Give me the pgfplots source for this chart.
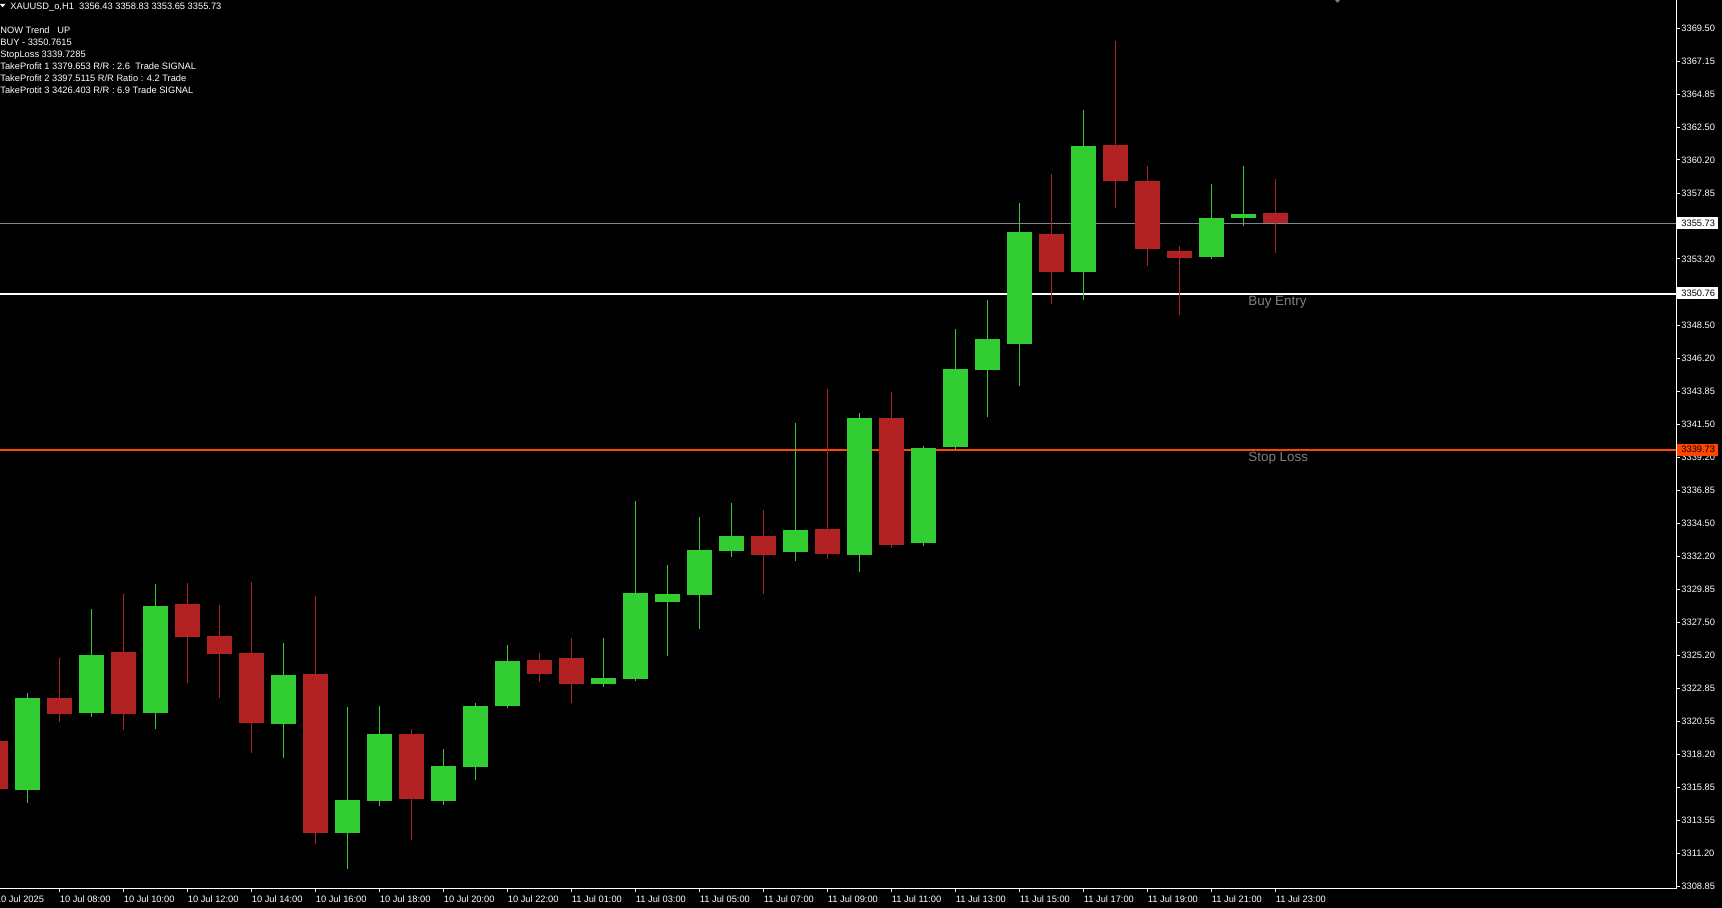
\documentclass[border=0pt]{standalone}
\usepackage{pgfplots}
\pgfplotsset{compat=1.18}
\usepackage{pgfplotstable}
\usepackage{fontspec}
\setmainfont{Liberation Sans}
\definecolor{bull}{HTML}{32CD32}
\definecolor{bear}{HTML}{B22222}
\definecolor{slgray}{HTML}{778899}
\definecolor{orred}{HTML}{FF4500}
\definecolor{lblgray}{HTML}{808080}
\newcommand\tf{\fontsize{4.65}{5.6}\selectfont}

% t = bar index (0 = 10 Jul 06:00), O H L C
\pgfplotstableread{
t O H L C
1 3315.68 3322.53 3314.76 3322.18
3 3321.12 3328.47 3320.84 3325.22
5 3321.12 3330.24 3319.99 3328.68
9 3320.34 3326.07 3317.94 3323.81
11 3312.64 3321.55 3310.10 3314.97
12 3314.90 3321.62 3314.55 3319.64
14 3314.90 3318.58 3314.62 3317.38
15 3317.31 3321.83 3316.39 3321.62
16 3321.62 3325.93 3321.48 3324.80
19 3323.17 3326.42 3322.96 3323.59
20 3323.52 3336.10 3323.38 3329.60
21 3328.96 3331.58 3325.15 3329.53
22 3329.46 3334.97 3327.06 3332.64
23 3332.57 3335.96 3332.14 3333.63
25 3332.50 3341.61 3331.86 3334.05
27 3332.29 3342.32 3331.08 3341.97
29 3333.13 3339.99 3332.92 3339.85
30 3339.92 3348.25 3339.78 3345.43
31 3345.36 3350.30 3342.04 3347.55
32 3347.19 3357.16 3344.23 3355.11
34 3352.28 3363.73 3350.30 3361.18
38 3353.34 3358.50 3353.20 3356.10
39 3356.10 3359.77 3355.53 3356.38
}\bulltab

\pgfplotstableread{
t O H L C
0 3319.14 3319.60 3315.20 3315.75
2 3322.18 3325.01 3320.49 3321.05
4 3325.43 3329.53 3319.92 3321.05
6 3328.82 3330.31 3323.24 3326.49
7 3326.56 3328.75 3322.18 3325.29
8 3325.36 3330.38 3318.30 3320.42
10 3323.88 3329.39 3311.87 3312.64
13 3319.64 3319.99 3312.15 3315.05
17 3324.87 3325.36 3323.31 3323.88
18 3325.01 3326.42 3321.83 3323.17
24 3333.63 3335.46 3329.53 3332.29
26 3334.12 3344.01 3332.00 3332.36
28 3341.97 3343.80 3332.78 3332.99
33 3354.97 3359.21 3350.02 3352.28
35 3361.25 3368.60 3356.80 3358.71
36 3358.71 3359.77 3352.71 3353.91
37 3353.76 3354.12 3349.24 3353.27
40 3356.43 3358.83 3353.65 3355.73
}\beartab

\begin{document}
\begin{tikzpicture}
\fill[black] (0,-9.5pt) rectangle (861pt,444.5pt);
\begin{axis}[
  at={(0,0)}, anchor=south west,
  scale only axis, width=838pt, height=444.5pt,
  xmin=0.140625, xmax=52.515625,
  ymin=3308.69, ymax=3371.50,
  axis line style={draw=none},
  tick align=outside,
  major tick length=1.75pt,
  tick style={white, line width=0.5pt},
  xtick pos=left, ytick pos=right,
  xticklabel pos=left, yticklabel pos=right,
  xtick={2,4,...,40},
  xticklabels={10 Jul 08:00, 10 Jul 10:00, 10 Jul 12:00, 10 Jul 14:00, 10 Jul 16:00, 10 Jul 18:00, 10 Jul 20:00, 10 Jul 22:00, 11 Jul 01:00, 11 Jul 03:00, 11 Jul 05:00, 11 Jul 07:00, 11 Jul 09:00, 11 Jul 11:00, 11 Jul 13:00, 11 Jul 15:00, 11 Jul 17:00, 11 Jul 19:00, 11 Jul 21:00, 11 Jul 23:00},
  ytick={3308.85,3311.20,3313.55,3315.85,3318.20,3320.55,3322.85,3325.20,3327.50,3329.85,3332.20,3334.50,3336.85,3339.20,3341.50,3343.85,3346.20,3348.50,3353.20,3357.85,3360.20,3362.50,3364.85,3367.15,3369.50},
  yticklabels={3308.85,3311.20,3313.55,3315.85,3318.20,3320.55,3322.85,3325.20,3327.50,3329.85,3332.20,3334.50,3336.85,3339.20,3341.50,3343.85,3346.20,3348.50,3353.20,3357.85,3360.20,3362.50,3364.85,3367.15,3369.50},
  x tick label style={font=\tf, text=white, anchor=north west, inner sep=0pt, yshift=-1.25pt},
  y tick label style={font=\tf, text=white, anchor=west, inner sep=0pt, xshift=0.75pt},
]
% level lines
\addplot[slgray, line width=0.5pt, forget plot] coordinates {(0,3355.73) (53,3355.73)};
\addplot[white, line width=1pt, forget plot] coordinates {(0,3350.76) (53,3350.76)};
\addplot[orred, line width=1pt, forget plot] coordinates {(0,3339.73) (53,3339.73)};
% wicks
\addplot[draw=none, mark=none, forget plot,
  error bars/.cd, y dir=plus, y explicit, error mark=none,
  error bar style={draw=bull, line width=0.5pt}]
  table[x=t, y=L, y error plus expr={\thisrow{H}-\thisrow{L}}] {\bulltab};
\addplot[draw=none, mark=none, forget plot,
  error bars/.cd, y dir=plus, y explicit, error mark=none,
  error bar style={draw=bear, line width=0.5pt}]
  table[x=t, y=L, y error plus expr={\thisrow{H}-\thisrow{L}}] {\beartab};
% bodies
\addplot[draw=none, mark=none, forget plot,
  error bars/.cd, y dir=plus, y explicit, error mark=none,
  error bar style={draw=bull, line width=12.5pt}]
  table[x=t, y=O, y error plus expr={\thisrow{C}-\thisrow{O}}] {\bulltab};
\addplot[draw=none, mark=none, forget plot,
  error bars/.cd, y dir=plus, y explicit, error mark=none,
  error bar style={draw=bear, line width=12.5pt}]
  table[x=t, y=C, y error plus expr={\thisrow{O}-\thisrow{C}}] {\beartab};
\end{axis}
% frame (right and bottom)
\draw[white, line width=0.5pt] (0,0) -- (838pt,0) -- (838pt,444.5pt);
% first (cut) time label
\node[anchor=north west, inner sep=0pt, font=\tf, text=white] at (-2.25pt,-3pt) {10 Jul 2025};
% price boxes
\fill[white] (838.5pt,329.9pt) rectangle (859pt,335.9pt);
\node[anchor=west, inner sep=0pt, font=\tf, text=black] at (840.5pt,332.9pt) {3355.73};
\fill[white] (838.5pt,294.8pt) rectangle (859pt,300.8pt);
\node[anchor=west, inner sep=0pt, font=\tf, text=black] at (840.5pt,297.8pt) {3350.76};
\fill[orred] (838.5pt,216.7pt) rectangle (859pt,222.7pt);
\node[anchor=west, inner sep=0pt, font=\tf, text=black] at (840.5pt,219.7pt) {3339.73};
% line labels
\node[anchor=base west, inner sep=0pt, font=\fontsize{6.7}{8}\selectfont, text=lblgray] at (624pt,291.5pt) {Buy Entry};
\node[anchor=base west, inner sep=0pt, font=\fontsize{6.7}{8}\selectfont, text=lblgray] at (624pt,213.5pt) {Stop Loss};
% header text
\fill[white] (0,442.5pt) -- (2.65pt,442.5pt) -- (1.33pt,440.85pt) -- cycle;
\fill[lblgray] (667.5pt,444.5pt) -- (670pt,444.5pt) -- (668.75pt,443.1pt) -- cycle;
\begin{scope}[every node/.style={anchor=base west, inner sep=0pt, font=\tf, text=white}]
\node at (5pt,439.85pt) {XAUUSD\_o,H1\hspace{2.6pt}3356.43 3358.83 3353.65 3355.73};
\node at (0pt,427.5pt) {NOW Trend\hspace{3.9pt}UP};
\node at (0pt,421.5pt) {BUY - 3350.7615};
\node at (0pt,415.5pt) {StopLoss 3339.7285};
\node at (0pt,409.65pt) {TakeProfit 1 3379.653 R/R : 2.6\hspace{2.6pt}Trade SIGNAL};
\node at (0pt,403.5pt) {TakeProfit 2 3397.5115 R/R Ratio : 4.2 Trade};
\node at (0pt,397.65pt) {TakeProtit 3 3426.403 R/R : 6.9 Trade SIGNAL};
\end{scope}
\pgfresetboundingbox
\path[use as bounding box] (0,-9.5pt) rectangle (861pt,444.5pt);
\end{tikzpicture}
\end{document}
